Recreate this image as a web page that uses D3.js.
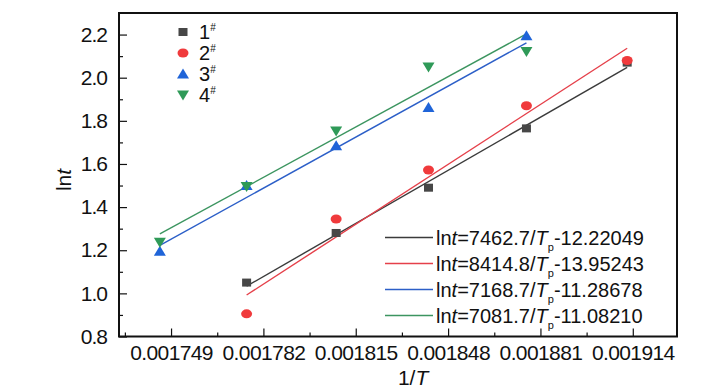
<!DOCTYPE html>
<head>
  <meta charset="utf-8">
  <title>lnt vs 1/T</title>
  <style>
    body { margin: 0; background: #fff; }
    text { font-family: "Liberation Sans", Arial, sans-serif; fill: #111; }
  </style>
</head>
<body>
<script src="https://cdn.jsdelivr.net/npm/d3@7"></script>
<script>
// data
var invT = [0.001745, 0.001776, 0.001808, 0.001841, 0.001876, 0.001912];
var xTicks = [0.001749, 0.001782, 0.001815, 0.001848, 0.001881, 0.001914];
var yTicks = [0.8, 1.0, 1.2, 1.4, 1.6, 1.8, 2.0, 2.2];

var s1 = [null, 1.05, 1.28, 1.49, 1.765, 2.07];   // 1#
var s2 = [null, 0.905, 1.345, 1.572, 1.87, 2.08]; // 2#
var s3 = [1.195, 1.50, 1.685, 1.862, 2.195, null]; // 3#
var s4 = [1.237, 1.495, 1.753, 2.05, 2.122, null]; // 4#

var names = ["1", "2", "3", "4"];
var slopes = [7462.7, 8414.8, 7168.7, 7081.7];
var intercepts = [-12.22049, -13.95243, -11.28678, -11.08210];
var eqText = ["7462.7", "8414.8", "7168.7", "7081.7"];
var eqConst = ["-12.22049", "-13.95243", "-11.28678", "-11.08210"];

var markColors = ["#474747", "#f03a3c", "#1f64d8", "#2f9a58"];
var lineColors = ["#3b3b3b", "#e5404a", "#2c5fc8", "#3c9560"];
var shapes = ["square", "circle", "up", "down"];

var margin = {top: 13, left: 119};
var width = 558, height = 323.5;

var svg = d3.select("body").append("svg")
  .attr("width", 728).attr("height", 390);
var g = svg.append("g").attr("transform", "translate(" + margin.left + "," + margin.top + ")");

var x = d3.scaleLinear().domain([0.0017304, 0.0019298]).range([0, width]);
var y = d3.scaleLinear().domain([0.8, 2.3]).range([height, 0]);

// minor ticks halfway between majors
var xMinor = [];
for (var i = 0; i < xTicks.length - 1; i++) xMinor.push((xTicks[i] + xTicks[i + 1]) / 2);
xMinor.unshift(xTicks[0] - (xTicks[1] - xTicks[0]) / 2);
var yMinor = [];
for (var i = 0; i < yTicks.length - 1; i++) yMinor.push((yTicks[i] + yTicks[i + 1]) / 2);

// axes (ticks pointing inward)
var xAxis = g.append("g").attr("transform", "translate(0," + height + ")")
  .call(d3.axisBottom(x).tickValues(xTicks).tickSizeInner(-8).tickSizeOuter(0)
    .tickFormat(d3.format(".6f")).tickPadding(8.5));
g.append("g").attr("transform", "translate(0," + height + ")")
  .call(d3.axisBottom(x).tickValues(xMinor).tickSizeInner(-4).tickSizeOuter(0).tickFormat(""));
var yAxis = g.append("g")
  .call(d3.axisLeft(y).tickValues(yTicks).tickSizeInner(-8).tickSizeOuter(0)
    .tickFormat(d3.format(".1f")).tickPadding(12));
g.append("g")
  .call(d3.axisLeft(y).tickValues(yMinor).tickSizeInner(-4).tickSizeOuter(0).tickFormat(""));

g.selectAll(".domain").remove();
g.selectAll(".tick line").attr("stroke", "#111").attr("stroke-width", 1.2);
xAxis.selectAll("text").style("font-size", "21px").style("letter-spacing", "-0.6px").attr("fill", "#111");
yAxis.selectAll("text").style("font-size", "21px").style("letter-spacing", "-1px").attr("fill", "#111");

// frame
g.append("rect").attr("width", width).attr("height", height)
  .attr("fill", "none").attr("stroke", "#111").attr("stroke-width", 2);

// axis titles
var xt = svg.append("text").attr("x", margin.left + x(0.0018355)).attr("y", 385)
  .attr("text-anchor", "middle").style("font-size", "21px");
xt.append("tspan").text("1/");
xt.append("tspan").style("font-style", "italic").text("T");

var yt = svg.append("text").attr("transform", "translate(71,180) rotate(-90)")
  .attr("text-anchor", "middle").style("font-size", "21px");
yt.append("tspan").text("ln");
yt.append("tspan").style("font-style", "italic").text("t");

var series = [s1, s2, s3, s4];

// fitted lines over each series' range
series.forEach(function (s, k) {
  var xs = invT.filter(function (v, i) { return s[i] !== null; });
  var x0 = d3.min(xs), x1 = d3.max(xs);
  g.append("line")
    .attr("x1", x(x0)).attr("y1", y(slopes[k] * x0 + intercepts[k]))
    .attr("x2", x(x1)).attr("y2", y(slopes[k] * x1 + intercepts[k]))
    .attr("stroke", lineColors[k]).attr("stroke-width", 1.4);
});

function drawMark(sel, shape, color) {
  if (shape === "square") {
    sel.append("rect").attr("x", -4.5).attr("y", -4).attr("width", 9).attr("height", 8).attr("fill", color);
  } else if (shape === "circle") {
    sel.append("ellipse").attr("rx", 5.5).attr("ry", 4.5).attr("fill", color);
  } else if (shape === "up") {
    sel.append("path").attr("d", "M0,-5.5L6,4.5L-6,4.5Z").attr("fill", color);
  } else {
    sel.append("path").attr("d", "M0,5.5L6,-4.5L-6,-4.5Z").attr("fill", color);
  }
}

series.forEach(function (s, k) {
  s.forEach(function (v, i) {
    if (v === null) return;
    var m = g.append("g").attr("transform", "translate(" + x(invT[i]) + "," + y(v) + ")");
    drawMark(m, shapes[k], markColors[k]);
  });
});

// symbol legend (top left)
names.forEach(function (n, k) {
  var m = svg.append("g").attr("transform", "translate(183," + (32 + k * 21) + ")");
  drawMark(m, shapes[k], markColors[k]);
  var t = svg.append("text").attr("x", 199).attr("y", 39 + k * 21).style("font-size", "20px");
  t.append("tspan").text(n);
  t.append("tspan").attr("dy", -8).style("font-size", "10px").text("#");
});

// equation legend (bottom right)
names.forEach(function (n, k) {
  var yy = 237.5 + k * 26;
  svg.append("line").attr("x1", 385).attr("x2", 433).attr("y1", yy).attr("y2", yy)
    .attr("stroke", lineColors[k]).attr("stroke-width", 1.4);
  var t = svg.append("text").attr("x", 436).attr("y", yy + 7.5).style("font-size", "20px");
  t.append("tspan").text("ln");
  t.append("tspan").style("font-style", "italic").text("t");
  t.append("tspan").text("=" + eqText[k] + "/");
  t.append("tspan").style("font-style", "italic").text("T");
  t.append("tspan").attr("dy", 6).style("font-size", "11px").text("p");
  t.append("tspan").attr("dy", -6).text(eqConst[k]);
});
</script>
</body>
